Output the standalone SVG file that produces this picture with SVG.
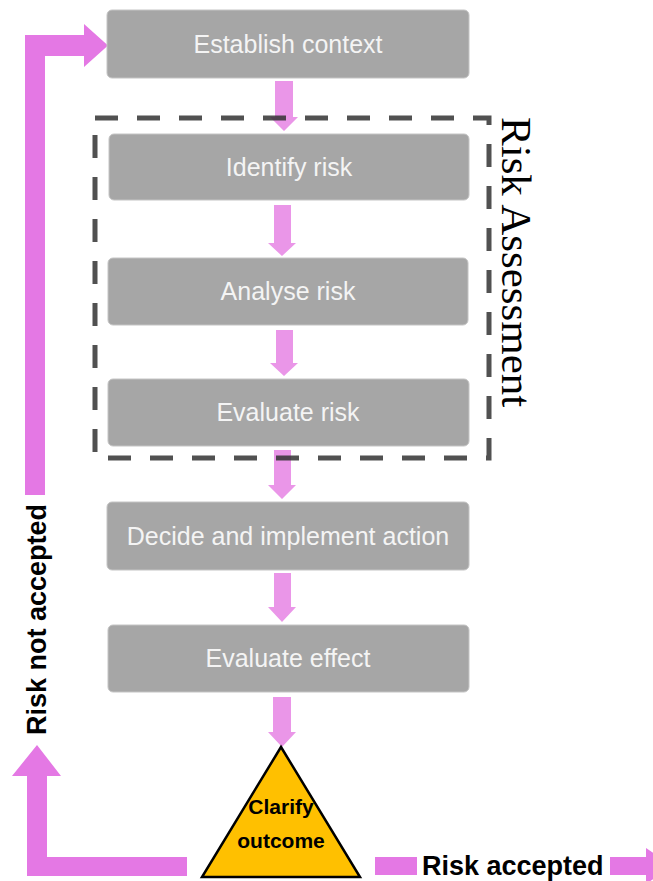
<svg xmlns="http://www.w3.org/2000/svg" width="653" height="881" viewBox="0 0 653 881">
<style>
.box{fill:#A6A6A6;stroke:#C4C4C4;stroke-width:1}
.bt{font-family:"Liberation Sans",Arial,sans-serif;font-size:25px;fill:#F4F4F4;text-anchor:middle}
.lbl{font-family:"Liberation Sans",Arial,sans-serif;font-weight:bold;font-size:27px;fill:#000}
.down{fill:#EA96E8}
.loop{fill:#E478E4}
</style>
<rect width="653" height="881" fill="#fff"/>
<g id="connectors">
  <path class="down" d="M275,81 H293 V117 H298 L284,131 L270,117 H275 Z"/>
  <path class="down" d="M274,205 H291 V243 H296 L282,256 L268,243 H274 Z"/>
  <path class="down" d="M276,330 H293 V363 H298 L284,376 L270,363 H276 Z"/>
  <path class="down" d="M274,450 H291 V485 H296 L282,499 L268,485 H274 Z"/>
  <path class="down" d="M274,573 H291 V607 H296 L282,622 L268,607 H274 Z"/>
  <path class="down" d="M273,697 H291 V732 H296 L282,747 L268,732 H273 Z"/>
  <path id="loop-top" class="loop" d="M25,495 V35 H84 V24 L108,45.5 L84,67 V56 H45 V495 Z"/>
  <path id="loop-bottom" class="loop" d="M187,857 V876 H27 V776 H12 L37,745 L61,776 H47 V857 Z"/>
  <rect class="loop" x="375" y="857" width="42" height="18"/>
  <path class="loop" d="M610,857 H646 V848 L672,866 L646,884 V875 H610 Z"/>
</g>
<g id="risk-assessment">
  <rect x="95" y="118" width="394" height="340" fill="none" stroke="#333" stroke-opacity="0.85" stroke-width="5" stroke-dasharray="23 19"/>
  <text transform="translate(502,117) rotate(90)" font-family="'Liberation Serif','Times New Roman',serif" font-size="43" fill="#000">Risk Assessment</text>
</g>
<g id="establish"><rect class="box" x="107" y="10" width="362" height="68" rx="5"/><text class="bt" x="288" y="53">Establish context</text></g>
<g id="identify"><rect class="box" x="109" y="134" width="360" height="66" rx="5"/><text class="bt" x="289" y="176">Identify risk</text></g>
<g id="analyse"><rect class="box" x="108" y="258" width="360" height="67" rx="5"/><text class="bt" x="288" y="300">Analyse risk</text></g>
<g id="evaluate-risk"><rect class="box" x="108" y="379" width="361" height="67" rx="5"/><text class="bt" x="288" y="421">Evaluate risk</text></g>
<g id="decide"><rect class="box" x="107" y="502" width="362" height="68" rx="5"/><text class="bt" x="288" y="545">Decide and implement action</text></g>
<g id="evaluate-effect"><rect class="box" x="108" y="625" width="361" height="67" rx="5"/><text class="bt" x="288" y="667">Evaluate effect</text></g>
<g id="clarify">
  <path d="M281,747 L360,877 L202,877 Z" fill="#FFC000" stroke="#000" stroke-width="2.5" stroke-linejoin="miter"/>
  <text x="281" y="814" font-family="'Liberation Sans',Arial,sans-serif" font-weight="bold" font-size="21" text-anchor="middle">Clarify</text>
  <text x="281" y="848" font-family="'Liberation Sans',Arial,sans-serif" font-weight="bold" font-size="21" text-anchor="middle">outcome</text>
</g>
<text class="lbl" transform="translate(46,735) rotate(-90)">Risk not accepted</text>
<text class="lbl" x="422" y="875">Risk accepted</text>
</svg>
